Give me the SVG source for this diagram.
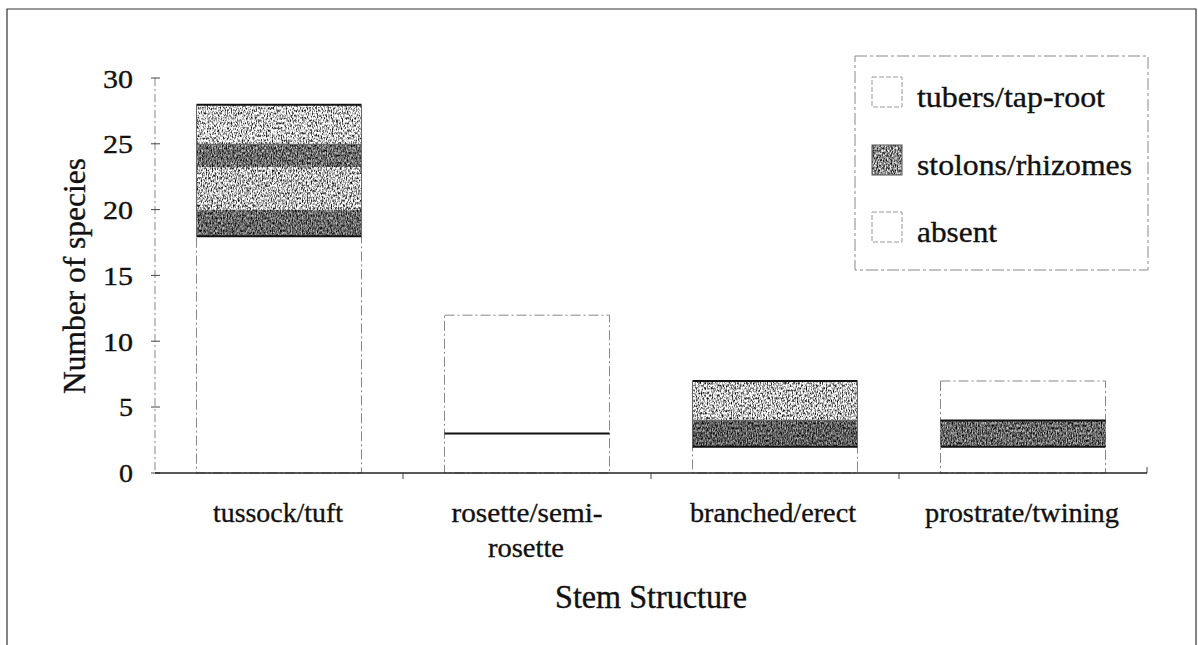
<svg xmlns="http://www.w3.org/2000/svg" width="1198" height="645" viewBox="0 0 1198 645">
<style>
  text { font-family: "Liberation Serif", "DejaVu Serif", "Times New Roman", serif; fill: #111; stroke: #111; stroke-width: 0.35; }
  .tick { font-size: 26px; text-anchor: end; }
  .cat { font-size: 28px; text-anchor: middle; }
  .leg { font-size: 30px; }
  .frame { fill: none; stroke: #333; stroke-width: 1.2; }
  .bar { stroke: #888; stroke-width: 1; stroke-dasharray: 10 3 2 3; }
  .edge { stroke: #111; stroke-width: 2; }
  .thin { stroke: #666; stroke-width: 1; }
  .white { fill: #fff; }
</style>
<defs>
  <filter id="grain" x="0" y="0" width="1" height="1" color-interpolation-filters="sRGB">
    <feTurbulence type="fractalNoise" baseFrequency="0.8 0.4" numOctaves="2" seed="7" result="n"/>
    <feColorMatrix in="n" type="matrix" values="0 0 0 1.6 -0.3  0 0 0 1.6 -0.3  0 0 0 1.6 -0.3  0 0 0 0 1" result="g"/>
    <feComposite in="SourceGraphic" in2="g" operator="arithmetic" k1="2" k2="0" k3="0" k4="0" result="mix"/>
    <feComposite in="mix" in2="SourceAlpha" operator="in"/>
  </filter>
</defs>
<rect width="1198" height="645" fill="#fff"/>

<g id="frame">
  <path class="frame" d="M7,660 V9 H1196 V660"/>
</g>

<g id="axes">
  <line x1="155" y1="78" x2="155" y2="473" stroke="#888" stroke-width="1" stroke-dasharray="8 3 2 3"/>
  <g stroke="#444" stroke-width="1">
    <line x1="151" y1="78" x2="160" y2="78"/>
    <line x1="151" y1="143.8" x2="160" y2="143.8"/>
    <line x1="151" y1="209.6" x2="160" y2="209.6"/>
    <line x1="151" y1="275.4" x2="160" y2="275.4"/>
    <line x1="151" y1="341.2" x2="160" y2="341.2"/>
    <line x1="151" y1="407" x2="160" y2="407"/>
    <line x1="151" y1="473" x2="160" y2="473"/>
    <line x1="403" y1="473" x2="403" y2="479"/>
    <line x1="651" y1="473" x2="651" y2="479"/>
    <line x1="899" y1="473" x2="899" y2="479"/>
    <line x1="1147" y1="467" x2="1147" y2="473"/>
  </g>
  <text class="tick" x="133" y="87.5" textLength="30" lengthAdjust="spacingAndGlyphs">30</text>
  <text class="tick" x="133" y="153" textLength="30" lengthAdjust="spacingAndGlyphs">25</text>
  <text class="tick" x="133" y="219" textLength="30" lengthAdjust="spacingAndGlyphs">20</text>
  <text class="tick" x="133" y="285" textLength="30" lengthAdjust="spacingAndGlyphs">15</text>
  <text class="tick" x="133" y="351" textLength="30" lengthAdjust="spacingAndGlyphs">10</text>
  <text class="tick" x="133" y="416" textLength="14" lengthAdjust="spacingAndGlyphs">5</text>
  <text class="tick" x="133" y="482" textLength="14" lengthAdjust="spacingAndGlyphs">0</text>
  <text x="85" y="276" font-size="32" text-anchor="middle" transform="rotate(-90 85 276)" textLength="236" lengthAdjust="spacingAndGlyphs">Number of species</text>
</g>

<g id="bar-tussock">
  <rect class="white bar" x="196.5" y="236.3" width="165" height="236.7"/>
  <rect x="196.5" y="104.8" width="165" height="39.5" fill="#cacaca" filter="url(#grain)"/>
  <rect x="196.5" y="144.3" width="165" height="22.7" fill="#6a6a6a" filter="url(#grain)"/>
  <rect x="196.5" y="167" width="165" height="43" fill="#bdbdbd" filter="url(#grain)"/>
  <rect x="196.5" y="210" width="165" height="26.3" fill="#666" filter="url(#grain)"/>
  <line class="edge" x1="196.5" y1="104.8" x2="361.5" y2="104.8"/>
  <line class="thin" x1="196.5" y1="144.3" x2="361.5" y2="144.3"/>
  <line class="edge" x1="196.5" y1="236.3" x2="361.5" y2="236.3"/>
  <line class="thin" x1="196.5" y1="104.8" x2="196.5" y2="236.3"/>
  <line class="thin" x1="361.5" y1="104.8" x2="361.5" y2="236.3"/>
</g>

<g id="bar-rosette">
  <rect class="white bar" x="444.5" y="315.2" width="165" height="157.8"/>
  <line class="edge" x1="444.5" y1="433.5" x2="609.5" y2="433.5"/>
</g>

<g id="bar-branched">
  <rect class="white bar" x="692.5" y="446.7" width="165" height="26.3"/>
  <rect x="692.5" y="381" width="165" height="39.4" fill="#c0c0c0" filter="url(#grain)"/>
  <rect x="692.5" y="420.4" width="165" height="26.3" fill="#5c5c5c" filter="url(#grain)"/>
  <line class="edge" x1="692.5" y1="381" x2="857.5" y2="381" stroke-width="1.5"/>
  <line class="thin" x1="692.5" y1="420.4" x2="857.5" y2="420.4"/>
  <line class="edge" x1="692.5" y1="446.7" x2="857.5" y2="446.7"/>
  <line class="thin" x1="692.5" y1="381" x2="692.5" y2="446.7"/>
  <line class="thin" x1="857.5" y1="381" x2="857.5" y2="446.7"/>
</g>

<g id="bar-prostrate">
  <rect class="white bar" x="940.5" y="381" width="165" height="92"/>
  <rect x="940.5" y="420.4" width="165" height="26.3" fill="#666" filter="url(#grain)"/>
  <line class="edge" x1="940.5" y1="420.4" x2="1105.5" y2="420.4"/>
  <line class="edge" x1="940.5" y1="446.7" x2="1105.5" y2="446.7"/>
</g>

<g id="x-axis">
  <line x1="155" y1="473" x2="1147" y2="473" stroke="#222" stroke-width="1.6"/>
  <text class="cat" x="278" y="522" textLength="130" lengthAdjust="spacingAndGlyphs">tussock/tuft</text>
  <text class="cat" x="527" y="522" textLength="151" lengthAdjust="spacingAndGlyphs">rosette/semi-</text>
  <text class="cat" x="526" y="557" textLength="76" lengthAdjust="spacingAndGlyphs">rosette</text>
  <text class="cat" x="773" y="522" textLength="166" lengthAdjust="spacingAndGlyphs">branched/erect</text>
  <text class="cat" x="1022" y="522" textLength="194" lengthAdjust="spacingAndGlyphs">prostrate/twining</text>
  <text x="651" y="608" font-size="33" text-anchor="middle" textLength="192" lengthAdjust="spacingAndGlyphs">Stem Structure</text>
</g>

<g id="legend">
  <rect x="855" y="56" width="293" height="214" fill="#fff" stroke="#888" stroke-width="1" stroke-dasharray="12 3 3 3"/>
  <rect class="white" x="872" y="77" width="30" height="30" stroke="#999" stroke-width="1" stroke-dasharray="5 2"/>
  <rect x="872" y="145" width="30" height="30" fill="#8a8a8a" filter="url(#grain)"/>
  <rect x="872" y="145" width="30" height="30" fill="none" stroke="#555" stroke-width="1"/>
  <rect class="white" x="872" y="212" width="30" height="30" stroke="#999" stroke-width="1" stroke-dasharray="5 2"/>
  <text class="leg" x="917" y="107" textLength="188" lengthAdjust="spacingAndGlyphs">tubers/tap-root</text>
  <text class="leg" x="917" y="175" textLength="215" lengthAdjust="spacingAndGlyphs">stolons/rhizomes</text>
  <text class="leg" x="917" y="242" textLength="80" lengthAdjust="spacingAndGlyphs">absent</text>
</g>
</svg>
